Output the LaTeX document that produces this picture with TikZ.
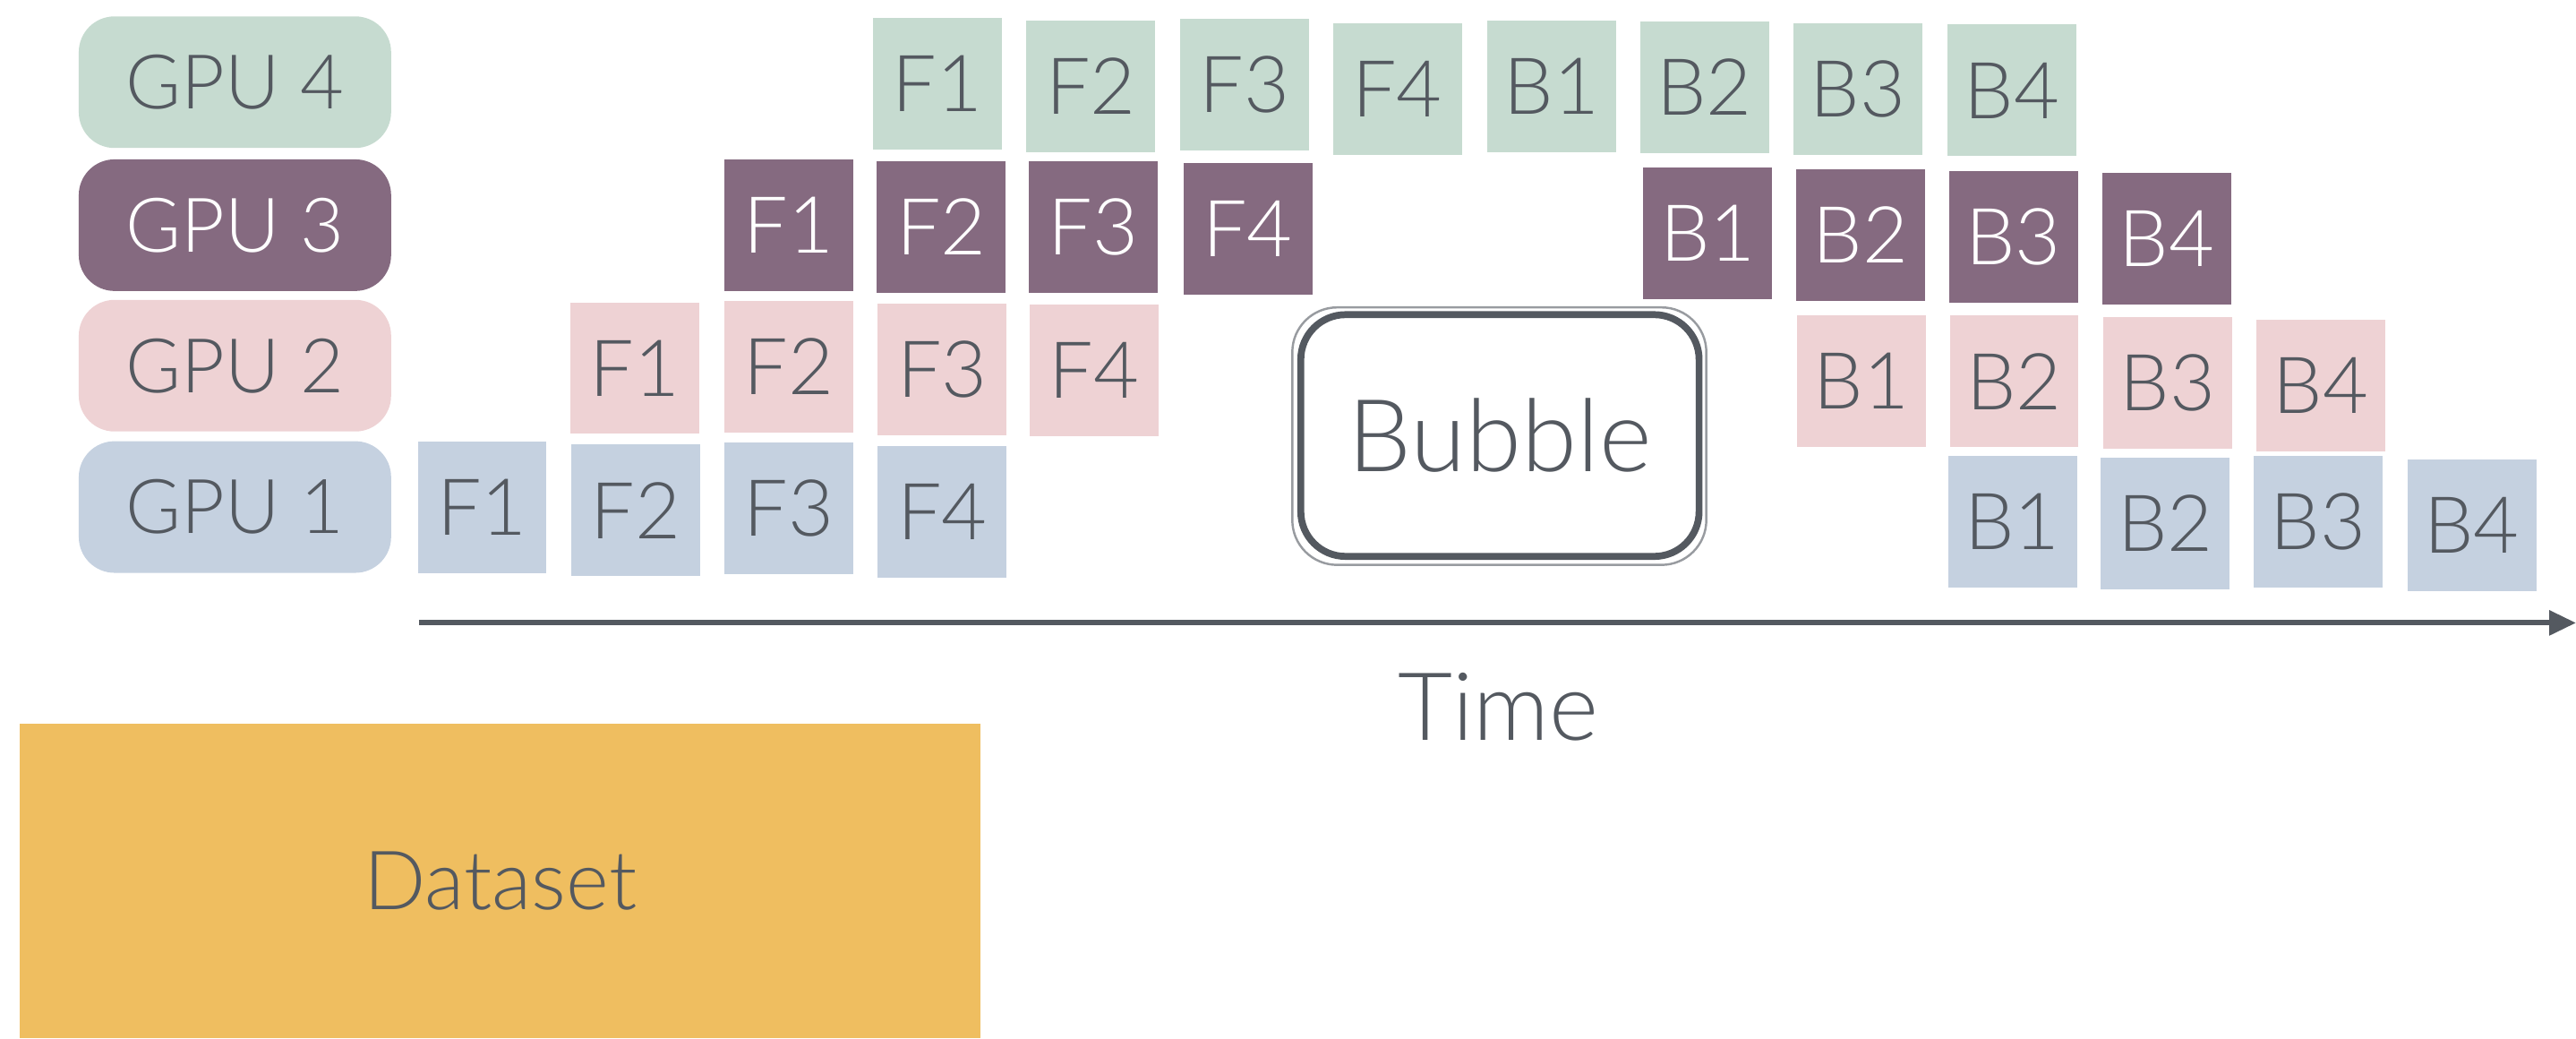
\documentclass[tikz,border=0pt]{standalone}
\usepackage{fontspec}
\setmainfont{Lato}[UprightFont={* Light}]
\usepackage{xcolor}
\usetikzlibrary{arrows.meta, positioning}

\definecolor{gpuGreen}{HTML}{C6DBD0}
\definecolor{gpuPurple}{HTML}{856A80}
\definecolor{gpuPink}{HTML}{EED2D4}
\definecolor{gpuBlue}{HTML}{C5D1E0}
\definecolor{txtGray}{HTML}{545960}
\definecolor{dataGold}{HTML}{EFBE60}

\begin{document}
\begin{tikzpicture}[
    x=0.01835cm, y=-0.01835cm,
    >={Triangle[length=0.3cm, width=0.27cm]},
    gpu/.style={rectangle, rounded corners=0.4cm, minimum width=3.49cm, minimum height=1.47cm, text=txtGray, font=\fontsize{24}{28}\selectfont},
    task/.style={rectangle, minimum width=1.44cm, minimum height=1.47cm, text=txtGray, font=\fontsize{25}{30}\selectfont},
    bubble/.style={draw=txtGray, line width=2.2pt, rounded corners=0.5cm, minimum width=4.45cm, minimum height=2.7cm, text=txtGray, font=\fontsize{32}{38}\selectfont},
    brush/.style={txtGray, line width=0.7pt, rounded corners=0.5cm, opacity=0.6},
    dataset/.style={rectangle, fill=dataGold, minimum width=10.73cm, minimum height=3.52cm, text=txtGray, font=\fontsize{26}{31}\selectfont},
    axis/.style={->, draw=txtGray, line width=1.7pt}
]
\useasboundingbox (0,0) rectangle (1568,632);

% GPU labels
\node[gpu, fill=gpuGreen] (gpu4) at (143,50) {GPU 4};
\node[gpu, fill=gpuPurple, text=white] (gpu3) at (143,137) {GPU 3};
\node[gpu, fill=gpuPink] (gpu2) at (143,222.5) {GPU 2};
\node[gpu, fill=gpuBlue] (gpu1) at (143,308.5) {GPU 1};

% GPU 1
\foreach \cx/\cy/\lab in {293.5/308.5/F1, 387/310.5/F2, 480/309.5/F3, 573.5/311.5/F4,
    1225/317.5/B1, 1318/318.5/B2, 1411/317.5/B3, 1504.5/319.5/B4}
  \node[task, fill=gpuBlue] (g1\lab) at (\cx,\cy) {\lab};

% GPU 2
\foreach \cx/\cy/\lab in {386.5/224/F1, 480/223/F2, 573.5/225/F3, 666/225.5/F4,
    1133/232/B1, 1226/232/B2, 1319.5/233/B3, 1412.5/234.5/B4}
  \node[task, fill=gpuPink] (g2\lab) at (\cx,\cy) {\lab};

% GPU 3
\foreach \cx/\cy/\lab in {480/137/F1, 573/138/F2, 665.5/138/F3, 759.5/139/F4,
    1039.5/142/B1, 1132.5/143/B2, 1225.5/144/B3, 1319/145/B4}
  \node[task, fill=gpuPurple, text=white] (g3\lab) at (\cx,\cy) {\lab};

% GPU 4
\foreach \cx/\cy/\lab in {570.5/51/F1, 664/52.5/F2, 757.5/51.5/F3, 850.5/54/F4,
    944.5/52.5/B1, 1037.5/53/B2, 1131/54/B3, 1224.5/55/B4}
  \node[task, fill=gpuGreen] (g4\lab) at (\cx,\cy) {\lab};

% Bubble
\node[bubble] (bubble) at (913,265) {Bubble};
\draw[brush] ([xshift=-1.6pt, yshift=1.2pt]bubble.north west) rectangle ([xshift=1.2pt, yshift=-1.6pt]bubble.south east);
\draw[brush] ([xshift=1.4pt, yshift=-1.4pt]bubble.north west) rectangle ([xshift=-1.6pt, yshift=1.2pt]bubble.south east);

% Time axis
\coordinate (tstart) at (255,379);
\coordinate (tend) at (1568,379);
\draw[axis] (tstart) -- (tend);
\node[text=txtGray, font=\fontsize{30}{36}\selectfont] (time) at (912,430) {Time};

% Dataset
\node[dataset] (data) at (304.5,536) {Dataset};

\end{tikzpicture}
\end{document}
